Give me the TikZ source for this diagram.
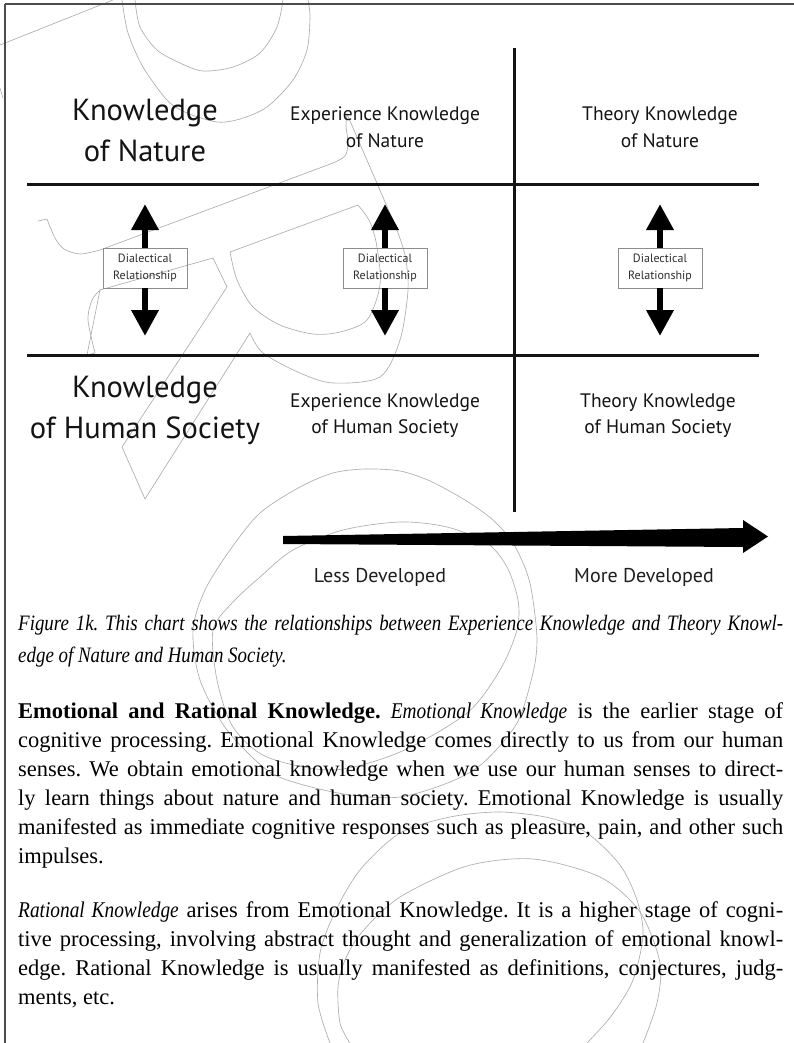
\documentclass[tikz,border=0pt]{standalone}
\usepackage{fontspec}
\setmainfont{Liberation Serif}[ItalicFeatures={FakeStretch=0.86}]
\setsansfont{PT Sans}
\usetikzlibrary{arrows.meta}
\frenchspacing

\begin{document}
\begin{tikzpicture}[x=1pt,y=-1pt,
  frameline/.style={draw=black!70, line width=2.5pt},
  rule/.style={draw=black!92, line width=3pt},
  bigtitle/.style={font=\sffamily\fontsize{30.5}{36}\selectfont, anchor=base, inner sep=0pt, text=black!92},
  celltext/.style={font=\sffamily\fontsize{19.5}{24}\selectfont, anchor=base, inner sep=0pt, text=black!92},
  dialbox/.style={draw=black!45, line width=0.9pt, minimum width=84pt, minimum height=40pt,
    inner sep=0pt, align=center, font=\sffamily\fontsize{12}{17}\selectfont, text=black!82},
  dialarrow/.style={draw=black, line width=6.5pt, -{Triangle[width=26pt,length=26pt]}},
  axislabel/.style={font=\sffamily\fontsize{20}{24}\selectfont, anchor=base, inner sep=0pt, text=black!88},
  wm/.style={draw=black!32, line width=0.65pt},
  bodytext/.style={anchor=base west, inner sep=0pt, text width=765pt, align=justify},
]
\useasboundingbox (0,0) rectangle (794,1043);
\fill[white] (0,0) rectangle (794,1043);

% ---- faint outline lettering in the background ----
\draw[wm] (0,45) -- (113,0);
\draw[wm] (0,88) -- (3,98);
\draw[wm] plot[smooth] coordinates {(122,0) (128,33) (143,67) (167,100) (187,113) (217,122) (240,119) (267,107) (293,80) (307,50) (310,17) (308,0)};
\draw[wm] plot[smooth] coordinates {(135,0) (140,27) (157,50) (180,63) (203,71) (233,67) (260,53) (277,27) (283,0)};
% slanted letter with a bowl
\draw[wm] (38,221) -- (47,219)
  plot[smooth] coordinates {(47,219) (55,238) (64,249) (80,254) (100,250)}
  -- (333,163)
  plot[smooth] coordinates {(333,163) (345,156) (348,143) (346,126) (347,114)}
  -- (395,225)
  plot[smooth] coordinates {(395,225) (405,255) (408,290) (400,340) (380,377) (333,383) (300,373) (263,353) (250,333)}
  -- (145,499) -- (122,447) -- (227,287) -- (213,258) -- (100,290)
  plot[smooth] coordinates {(100,290) (92,300) (88,320) (95,353)}
  -- (87,355) -- cycle;
\draw[wm] (230,252) -- (358,205)
  plot[smooth] coordinates {(358,205) (370,222) (377,247) (380,285) (367,320) (340,332) (313,334) (280,325) (253,307) (237,280) (230,252)};
% round letter, upper pair of strokes
\draw[wm] plot[smooth cycle] coordinates {(193,630) (200,680) (227,730) (267,770) (300,784) (350,795) (400,797) (450,782) (483,763) (517,723) (533,673) (537,640) (533,600) (527,573) (513,543) (493,520) (465,500) (430,481) (400,471) (365,469) (333,473) (300,487) (260,513) (230,550) (205,590)};
\draw[wm] plot[smooth cycle] coordinates {(213,630) (217,680) (233,727) (267,757) (333,770) (400,752) (467,713) (500,670) (517,630) (518,600) (507,567) (487,543) (447,527) (400,522) (343,530) (293,550) (260,577) (232,603)};
% round letter, lower pair of strokes
\draw[wm] plot[smooth] coordinates {(330,1043) (318,1003) (320,953) (335,912) (360,870) (400,833) (450,817) (500,812) (550,818) (587,833) (620,865) (637,900) (643,935) (633,980) (612,1015) (587,1043)};
\draw[wm] plot[smooth] coordinates {(350,1043) (340,1023) (338,987) (345,960) (362,932) (400,897) (467,866) (533,859) (600,877) (640,912) (660,963) (657,1003) (643,1043)};

% ---- page frame ----
\draw[frameline] (5,4) -- (794,4);
\draw[frameline] (5,4) -- (5,1043);

% ---- chart grid ----
\draw[rule] (27,184.5) -- (759,184.5);
\draw[rule] (27,355) -- (759,355);
\draw[rule] (514.5,48) -- (514.5,512);

% ---- row and column labels ----
\node[bigtitle] (natA) at (145,121) {Knowledge};
\node[bigtitle] (natB) at (145,162) {of Nature};
\node[bigtitle] (socA) at (145,397) {Knowledge};
\node[bigtitle] (socB) at (145,438) {of Human Society};

\node[celltext] (expNatA) at (385,121) {Experience Knowledge};
\node[celltext] (expNatB) at (385,148) {of Nature};
\node[celltext] (thNatA) at (660,121) {Theory Knowledge};
\node[celltext] (thNatB) at (660,148) {of Nature};
\node[celltext] (expSocA) at (385,407) {Experience Knowledge};
\node[celltext] (expSocB) at (385,433) {of Human Society};
\node[celltext] (thSocA) at (658,407) {Theory Knowledge};
\node[celltext] (thSocB) at (658,433) {of Human Society};

% ---- dialectical relationship markers ----
\foreach \name/\x in {dA/145, dB/385, dC/660} {
  \node[dialbox] (\name) at (\x,268) {Dialectical\\Relationship};
  \coordinate (\name up) at (\x,204);
  \coordinate (\name down) at (\x,336);
  \draw[dialarrow] (\name.north) -- (\name up);
  \draw[dialarrow] (\name.south) -- (\name down);
}

% ---- development axis ----
\fill[black] (283,536) -- (743,528) -- (743,520) -- (768,536.5) -- (743,553) -- (743,547) -- (283,544) -- cycle;
\node[axislabel] (less) at (380,582) {Less Developed};
\node[axislabel] (more) at (644,582) {More Developed};

% ---- caption and body text ----
\node[bodytext, font=\fontsize{22}{32}\selectfont\itshape] (caption) at (18,630)
  {\hyphenpenalty=10000 Figure 1k. This chart shows the relationships between Experience Knowledge and Theory Knowl-\linebreak edge of Nature and Human Society.};

\node[bodytext, font=\fontsize{22.5}{29}\selectfont] (emo) at (18,718)
  {\hyphenpenalty=10000 \textbf{Emotional and Rational Knowledge.} \textit{Emotional Knowledge} is the earlier stage of\linebreak
  cognitive processing. Emotional Knowledge comes directly to us from our human\linebreak
  senses. We obtain emotional knowledge when we use our human senses to direct-\linebreak
  ly learn things about nature and human society. Emotional Knowledge is usually\linebreak
  manifested as immediate cognitive responses such as pleasure, pain, and other such\linebreak
  impulses.};

\node[bodytext, font=\fontsize{22.5}{29}\selectfont] (rat) at (18,917)
  {\hyphenpenalty=10000 \textit{Rational Knowledge} arises from Emotional Knowledge. It is a higher stage of cogni-\linebreak
  tive processing, involving abstract thought and generalization of emotional knowl-\linebreak
  edge. Rational Knowledge is usually manifested as definitions, conjectures, judg-\linebreak
  ments, etc.};
\end{tikzpicture}
\end{document}
